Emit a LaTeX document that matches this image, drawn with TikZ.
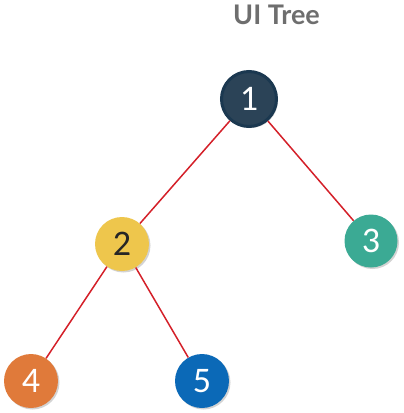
\documentclass[tikz,border=0pt]{standalone}
\usepackage{fontspec}
\setmainfont{Carlito}
\newfontfamily\titlefont{Lato}
\usetikzlibrary{shadows}

\definecolor{edgered}{HTML}{D42029}
\definecolor{navy}{HTML}{2B4357}
\definecolor{navyborder}{HTML}{1B3850}
\definecolor{mustard}{HTML}{EEC64C}
\definecolor{teal}{HTML}{3BAA94}
\definecolor{rust}{HTML}{E07A3A}
\definecolor{royal}{HTML}{0B69B7}
\definecolor{titlegray}{HTML}{6E6E6E}

\tikzset{
  treenode/.style={circle, minimum size=54pt, inner sep=0pt, text=white,
    font=\fontsize{36}{36}\selectfont,
    drop shadow={shadow xshift=1.5pt, shadow yshift=-1.5pt, opacity=0.35}},
  edge/.style={edgered, line width=1.5pt}
}

\begin{document}
\begin{tikzpicture}[x=1pt,y=-1pt]
	\useasboundingbox (0,0) rectangle (404,413);
	
	% title
	\node[text=titlegray, font=\titlefont\bfseries\fontsize{27}{27}\selectfont] (title) at (276.5,15) {UI Tree};
	
	% nodes
	\node[treenode, fill=navy, draw=navyborder, line width=3pt, minimum size=55pt] (n1) at (249,99) {1};
	\node[treenode, fill=mustard, text=black!85] (n2) at (122,244) {2};
	\node[treenode, fill=teal, minimum size=53pt] (n3) at (371,241) {3};
	\node[treenode, fill=rust] (n4) at (31,381) {4};
	\node[treenode, fill=royal] (n5) at (202,381) {5};
	
	% edges
	\draw[edge] (n1) -- (n2);
	\draw[edge] (n1) -- (n3);
	\draw[edge] (n2) -- (n4);
	\draw[edge] (n2) -- (n5);
\end{tikzpicture}
\end{document}
